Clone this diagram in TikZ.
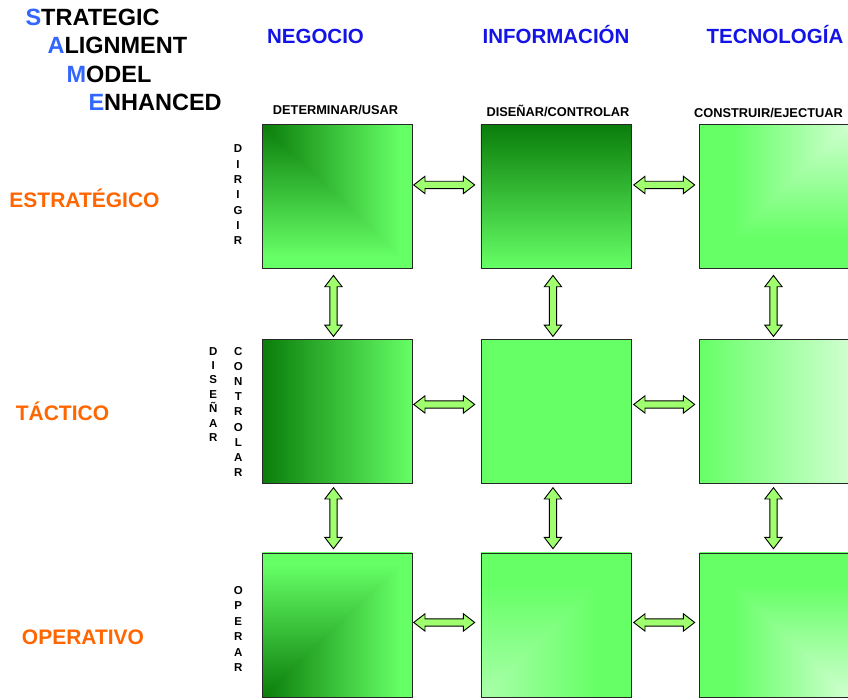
\documentclass[tikz,border=0pt]{standalone}
\usepackage{fontspec}
\setmainfont{Liberation Sans}
\usetikzlibrary{shapes.arrows,calc}
\definecolor{dkg}{RGB}{10,125,10}
\definecolor{brg}{RGB}{102,255,102}
\definecolor{plg}{RGB}{208,255,208}
\definecolor{plq}{RGB}{170,255,170}
\definecolor{arw}{RGB}{160,255,110}
\definecolor{ttlblue}{RGB}{51,102,255}
\definecolor{hdblue}{RGB}{20,20,230}
\definecolor{rowor}{RGB}{255,102,0}
% corner gradient pieces
\pgfdeclarehorizontalshading{hDB}{100bp}{color(0bp)=(dkg); color(25bp)=(dkg); color(71bp)=(brg); color(100bp)=(brg)}
\pgfdeclareverticalshading{vDBtop}{100bp}{color(0bp)=(brg); color(29bp)=(brg); color(75bp)=(dkg); color(100bp)=(dkg)}
\pgfdeclareverticalshading{vDBbot}{100bp}{color(0bp)=(dkg); color(25bp)=(dkg); color(71bp)=(brg); color(100bp)=(brg)}
\pgfdeclarehorizontalshading{hPBright}{100bp}{color(0bp)=(brg); color(36bp)=(brg); color(75bp)=(plg); color(100bp)=(plg)}
\pgfdeclareverticalshading{vPBtop}{100bp}{color(0bp)=(brg); color(36bp)=(brg); color(75bp)=(plg); color(100bp)=(plg)}
\pgfdeclareverticalshading{vPBbot}{100bp}{color(0bp)=(plg); color(25bp)=(plg); color(64bp)=(brg); color(100bp)=(brg)}
\pgfdeclarehorizontalshading{hQleft}{100bp}{color(0bp)=(plq); color(25bp)=(plq); color(64bp)=(brg); color(100bp)=(brg)}
\pgfdeclareverticalshading{vQbot}{100bp}{color(0bp)=(plq); color(25bp)=(plq); color(64bp)=(brg); color(100bp)=(brg)}
\begin{document}
\begin{tikzpicture}[x=1pt,y=-1pt,
  sq/.style={draw={rgb,255:red,40;green,40;blue,40}, line width=0.9pt, minimum width=150pt, minimum height=144pt, inner sep=0pt, anchor=north west},
  cornerA/.style 2 args={path picture={
    \path[draw=none, shading=#1] (path picture bounding box.north west) rectangle (path picture bounding box.south east);
    \path[draw=none, shading=#2] (path picture bounding box.north west) -- (path picture bounding box.south west) -- (path picture bounding box.south east) -- cycle;}},
  cornerB/.style 2 args={path picture={
    \path[draw=none, shading=#1] (path picture bounding box.north west) rectangle (path picture bounding box.south east);
    \path[draw=none, shading=#2] (path picture bounding box.north east) -- (path picture bounding box.south east) -- (path picture bounding box.south west) -- cycle;}},
  dbl/.style={double arrow, draw=black, fill=arw, line width=0.9pt, inner sep=3.2pt, minimum height=61pt, minimum width=16pt, double arrow head extend=5pt, double arrow tip angle=75},
  ttl/.style={anchor=base west, font=\bfseries\fontsize{23.5}{28}\selectfont},
  hd/.style={anchor=base, text=hdblue, font=\bfseries\fontsize{20.5}{24}\selectfont},
  sub/.style={anchor=base, font=\bfseries\fontsize{12.8}{15}\selectfont},
  rowl/.style={anchor=base, text=rowor, font=\bfseries\fontsize{21}{24}\selectfont},
  vl/.style={anchor=base, inner sep=0pt, font=\bfseries\fontsize{11.5}{13}\selectfont}
]
\useasboundingbox (0,0) rectangle (848,700);
\clip (0,0) rectangle (848,700);
\fill[white] (0,0) rectangle (848,700);

% title
\node[ttl] (t1) at (22,26) {\textcolor{ttlblue}{S}TRATEGIC};
\node[ttl] (t2) at (44,54) {\textcolor{ttlblue}{A}LIGNMENT};
\node[ttl] (t3) at (63,83) {\textcolor{ttlblue}{M}ODEL};
\node[ttl] (t4) at (85,111) {\textcolor{ttlblue}{E}NHANCED};

% column headers
\node[hd] (h1) at (315.5,44) {NEGOCIO};
\node[hd] (h2) at (556,44) {INFORMACIÓN};
\node[hd] (h3) at (775,44) {TECNOLOGÍA};

\node[sub] (u1) at (335.5,115) {DETERMINAR/USAR};
\node[sub] (u2) at (558,117) {DISEÑAR/CONTROLAR};
\node[sub] (u3) at (768.5,117.5) {CONSTRUIR/EJECTUAR};

% row labels
\node[rowl] (r1) at (84.5,208) {ESTRATÉGICO};
\node[rowl] (r2) at (62.5,420) {TÁCTICO};
\node[rowl] (r3) at (83,644) {OPERATIVO};

% vertical words
\foreach \l [count=\i from 0] in {D,I,R,I,G,I,R}
  \node[vl] (dir\i) at (238,153+15.33*\i) {\l};
\foreach \l [count=\i from 0] in {D,I,S,E,Ñ,A,R}
  \node[vl] (dis\i) at (213.3,355+14.45*\i) {\l};
\foreach \l [count=\i from 0] in {C,O,N,T,R,O,L,A,R}
  \node[vl] (con\i) at (238.3,355+15.2*\i) {\l};
\foreach \l [count=\i from 0] in {O,P,E,R,A,R}
  \node[vl] (ope\i) at (238.3,594.3+15.5*\i) {\l};

% squares
\node[sq, cornerA={hDB}{vDBtop}] (s11) at (262,124) {};
\node[sq, top color=dkg, bottom color=brg] (s12) at (480.5,124) {};
\node[sq, cornerB={hPBright}{vPBtop}] (s13) at (699,124) {};

\node[sq, left color=dkg, right color=brg] (s21) at (262,339) {};
\node[sq, fill=brg] (s22) at (480.5,339) {};
\node[sq, left color=brg, right color=plg] (s23) at (699,339) {};

\node[sq, cornerB={vDBbot}{hDB}] (s31) at (262,552.5) {};
\node[sq, cornerB={vQbot}{hQleft}] (s32) at (480.5,552.5) {};
\node[sq, cornerA={vPBbot}{hPBright}] (s33) at (699,552.5) {};

% horizontal arrows
\node[dbl] (a1112) at ($(s11.east)!0.5!(s12.west)+(-2.5,-11.5)$) {};
\node[dbl] (a1213) at ($(s12.east)!0.5!(s13.west)+(-1,-11.5)$) {};
\node[dbl] (a2122) at ($(s21.east)!0.5!(s22.west)+(-2.5,-7)$) {};
\node[dbl] (a2223) at ($(s22.east)!0.5!(s23.west)+(-1,-7)$) {};
\node[dbl] (a3132) at ($(s31.east)!0.5!(s32.west)+(-2.5,-2.5)$) {};
\node[dbl] (a3233) at ($(s32.east)!0.5!(s33.west)+(-1,-2.5)$) {};

% vertical arrows
\node[dbl, rotate=90] (a1121) at ($(s11.south)!0.5!(s21.north)+(-4,2)$) {};
\node[dbl, rotate=90] (a1222) at ($(s12.south)!0.5!(s22.north)+(-3,2)$) {};
\node[dbl, rotate=90] (a1323) at ($(s13.south)!0.5!(s23.north)+(-1,2)$) {};
\node[dbl, rotate=90] (a2131) at ($(s21.south)!0.5!(s31.north)+(-4,0)$) {};
\node[dbl, rotate=90] (a2232) at ($(s22.south)!0.5!(s32.north)+(-3,0)$) {};
\node[dbl, rotate=90] (a2333) at ($(s23.south)!0.5!(s33.north)+(-1,0)$) {};
\end{tikzpicture}
\end{document}
